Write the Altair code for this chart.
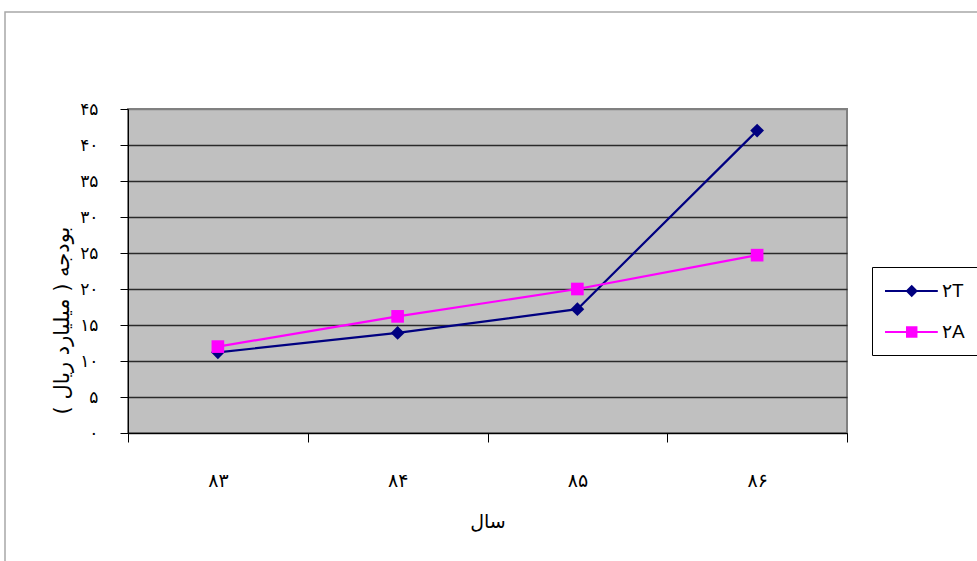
import altair as alt
import pandas as pd

# Budget by year (billion rials) for two series
years = ["۸۳", "۸۴", "۸۵", "۸۶"]
series_names = ["۲T", "۲A"]
values_t = [11.2, 13.9, 17.2, 42.0]
values_a = [12.0, 16.2, 20.0, 24.7]
y_ticks = [0, 5, 10, 15, 20, 25, 30, 35, 40, 45]
y_tick_labels = ["۰", "۵", "۱۰", "۱۵", "۲۰", "۲۵", "۳۰", "۳۵", "۴۰", "۴۵"]
series_colors = ["#000080", "#ff00ff"]
series_shapes = ["diamond", "square"]
series_sizes = [190, 160]

rows = []
for name, vals in zip(series_names, [values_t, values_a]):
    for yr, v in zip(years, vals):
        rows.append({"year": yr, "series": name, "value": v})
df = pd.DataFrame(rows)

W, H = 719, 324
PAD = {"left": 128, "top": 109, "right": 977 - 128 - W, "bottom": 561 - 109 - H}

persian_font = "DejaVu Sans"

# legend symbols: a short bar (the line) with the series marker on it, all filled
bar_path = "M-1,-0.1H3.8V0.1H-1Z"
legend_diamond = bar_path + "M1.43,-0.56L1.99,0L1.43,0.56L0.87,0Z"
legend_square = bar_path + "M0.91,-0.52H1.95V0.52H0.91Z"

label_expr = "[" + ",".join("'%s'" % s for s in y_tick_labels) + "][round(datum.value / 5)]"

x_enc = alt.X(
    "year:N",
    sort=years,
    bandPosition=0.5,
    scale=alt.Scale(type="band", paddingInner=0, paddingOuter=0),
    axis=alt.Axis(
        title="سال",
        titleFont=persian_font,
        titleFontSize=19,
        titleFontWeight="normal",
        titleColor="#000",
        titleY=88,
        titleBaseline="middle",
        labelFont=persian_font,
        labelFontSize=19,
        labelColor="#000",
        labelAngle=0,
        labelBaseline="middle",
        labelPadding=38,
        tickBand="extent",
        tickSize=9,
        tickColor="#000",
        domainColor="#000",
        grid=False,
    ),
)

y_enc = alt.Y(
    "value:Q",
    scale=alt.Scale(domain=[0, 45], nice=False, zero=True),
    axis=alt.Axis(
        title="بودجه ( میلیارد ریال )\u200f",
        titleFont=persian_font,
        titleFontSize=21,
        titleFontWeight="normal",
        titleColor="#000",
        titleAngle=270,
        titleX=-66,
        titleY=211,
        titleAlign="center",
        titleBaseline="middle",
        values=y_ticks,
        labelExpr=label_expr,
        labelFont=persian_font,
        labelFontSize=17,
        labelColor="#000",
        labelPadding=22,
        tickSize=8,
        tickColor="#000",
        domainColor="#000",
        grid=True,
        gridColor=alt.condition("datum.value == 45", alt.value("#808080"), alt.value("#2a2a2a")),
        gridWidth=1.5,
    ),
)

legend = alt.Legend(
    title=None,
    orient="none",
    direction="vertical",
    legendX=744,
    legendY=158,
    padding=13,
    rowPadding=20,
    symbolSize=484,
    symbolOpacity=1,
    symbolStrokeWidth=0,
    labelOffset=35,
    labelFont="Liberation Sans",
    labelFontSize=19,
    labelColor="#000",
    strokeColor="#000",
    fillColor="#ffffff",
)

frame = alt.Chart(pd.DataFrame({"k": [0]})).mark_rect(
    fillOpacity=0, stroke="#a8a8a8", strokeWidth=1.5
).encode(
    x=alt.value(-123), x2=alt.value(W + 140), y=alt.value(-97), y2=alt.value(H + 140)
)

layers = [frame]
for i, name in enumerate(series_names):
    layers.append(
        alt.Chart(df).transform_filter(alt.datum.series == name)
        .mark_line(strokeWidth=2.2, color=series_colors[i])
        .encode(x=x_enc, y=y_enc)
    )
for i, name in enumerate(series_names):
    layers.append(
        alt.Chart(df).transform_filter(alt.datum.series == name)
        .mark_point(filled=True, opacity=1, color=series_colors[i],
                    shape=series_shapes[i], size=series_sizes[i])
        .encode(x=x_enc, y=y_enc)
    )

# invisible layer that carries the legend (line + marker symbols)
legend_layer = alt.Chart(df).mark_point(filled=True, opacity=0).encode(
    x=x_enc,
    y=y_enc,
    color=alt.Color("series:N", scale=alt.Scale(domain=series_names, range=series_colors), legend=legend),
    shape=alt.Shape(
        "series:N",
        scale=alt.Scale(domain=series_names, range=[legend_diamond, legend_square]),
        legend=legend,
    ),
)
layers.append(legend_layer)

chart = alt.layer(*layers).properties(
    width=W,
    height=H,
    autosize=alt.AutoSizeParams(type="none"),
    padding=PAD,
    background="#ffffff",
).configure_view(
    fill="#c0c0c0",
    stroke="#808080",
    strokeWidth=2,
)

chart.save("out.html", embed_options={"renderer": "svg", "actions": False})
